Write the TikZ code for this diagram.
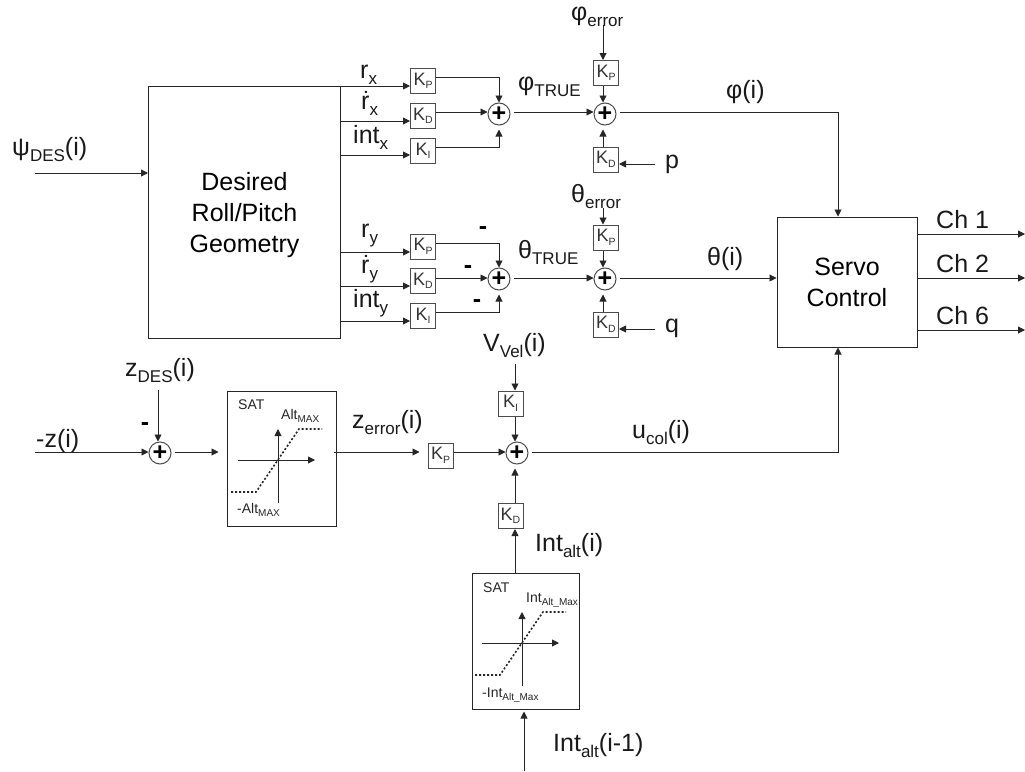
\documentclass[tikz,border=0pt]{standalone}
\usepackage{fontspec}
\setmainfont{Liberation Sans}
\usetikzlibrary{arrows.meta}
\newcommand{\bsub}[1]{\raisebox{-6pt}{\fontsize{17}{17}\selectfont #1}}
\newcommand{\ksub}[1]{K\raisebox{-3.5pt}{\fontsize{10.5}{10.5}\selectfont #1}}
\newcommand{\ssub}[1]{\raisebox{-3pt}{\fontsize{10}{10}\selectfont #1}}
\tikzset{
  >={Triangle[length=7pt,width=7pt]},
  sig/.style={draw=black!85, line width=.9pt, ->},
  block/.style={draw=black!85, line width=1pt, rectangle, inner sep=0pt, align=center,
    font=\fontsize{25}{31}\selectfont},
  gain/.style={draw=black!70, line width=1pt, rectangle, inner sep=0pt,
    minimum width=25pt, minimum height=25pt, text=black!80, font=\fontsize{18}{18}\selectfont},
  sumnode/.style={draw=black!70, line width=1pt, circle, inner sep=0pt,
    minimum size=22pt, font=\fontsize{25}{25}\bfseries\selectfont},
  lab/.style={anchor=base west, inner sep=0pt, text=black!90, font=\fontsize{25}{25}\selectfont},
  minus/.style={inner sep=0pt, font=\fontsize{25}{25}\bfseries\selectfont},
  satlab/.style={anchor=base west, inner sep=0pt, text=black!85, font=\fontsize{14}{14}\selectfont},
  pics/satcurve/.style={
    code={
      \draw[sig] (-40,0) -- (37,0);
      \draw[sig] (0,43) -- (0,-31);
      \draw[black!85, line width=1.6pt, dash pattern=on 2pt off 2pt] (-47,32) -- (-22,32) -- (21,-31) -- (44,-31);
    }
  }
}
\begin{document}
\begin{tikzpicture}[x=1pt,y=-1pt]
    \useasboundingbox (0,0) rectangle (1025,771);

    % blocks
    \node[block, minimum width=192pt, minimum height=252pt] (geom) at (244.5,212) {\rule{0pt}{24pt}Desired\\Roll/Pitch\\Geometry};
    \node[block, minimum width=140pt, minimum height=130pt] (servo) at (847,282) {Servo\\Control};
    \node[block, minimum width=109pt, minimum height=135pt] (satz) at (281.5,458.5) {};
    \node[block, minimum width=107pt, minimum height=136pt] (satint) at (525.5,641) {};
    \pic at (278,460) {satcurve};
    \pic at (522,643) {satcurve};

    % gains, roll
    \node[gain] (kpx) at (423,81) {\ksub{P}};
    \node[gain] (kdx) at (423,116) {\ksub{D}};
    \node[gain] (kix) at (423,151) {\ksub{I}};
    \node[gain] (kpphi) at (606,73) {\ksub{P}};
    \node[gain] (kdphi) at (606,159.5) {\ksub{D}};
    % gains, pitch
    \node[gain] (kpy) at (423,246.5) {\ksub{P}};
    \node[gain] (kdy) at (423,281) {\ksub{D}};
    \node[gain] (kiy) at (423,316) {\ksub{I}};
    \node[gain] (kpth) at (606,237.5) {\ksub{P}};
    \node[gain] (kdth) at (606,324.5) {\ksub{D}};
    % gains, altitude
    \node[gain] (kpz) at (440.5,455.5) {\ksub{P}};
    \node[gain] (kiz) at (510.5,403.5) {\ksub{I}};
    \node[gain] (kdz) at (510.5,516) {\ksub{D}};

    % sums
    \node[sumnode] (sumx) at (499,114) {+};
    \node[sumnode] (sumphi) at (605,114) {+};
    \node[sumnode] (sumy) at (499,279) {+};
    \node[sumnode] (sumth) at (605,279) {+};
    \node[sumnode] (sumz) at (160,453) {+};
    \node[sumnode] (sumu) at (517,453) {+};

    % free ends and levels
    \coordinate (psi) at (35,173);
    \coordinate (rx) at (341,86);
    \coordinate (drx) at (341,121);
    \coordinate (ix) at (341,155);
    \coordinate (ry) at (341,252);
    \coordinate (dry) at (341,286);
    \coordinate (iy) at (341,321);
    \coordinate (phi) at (605,112);
    \coordinate (theta) at (605,278);
    \coordinate (alt) at (515,452);
    \coordinate (err) at (603,25);
    \coordinate (therr) at (603,208);
    \coordinate (pin) at (655,164);
    \coordinate (qin) at (655,329);
    \coordinate (zin) at (35,452);
    \coordinate (zdes) at (158,390);
    \coordinate (vel) at (515,364);
    \coordinate (intin) at (524,771);
    \coordinate (ch1) at (1025,234);
    \coordinate (ch2) at (1025,278);
    \coordinate (ch6) at (1025,330);

    % roll and pitch channels
    \draw[sig] (psi) -- (geom.west |- psi);
    \draw[sig] (rx) -- (kpx.west |- rx);
    \draw[sig] (drx) -- (kdx.west |- drx);
    \draw[sig] (ix) -- (kix.west |- ix);
    \draw[sig] (ry) -- (kpy.west |- ry);
    \draw[sig] (dry) -- (kdy.west |- dry);
    \draw[sig] (iy) -- (kiy.west |- iy);
    \draw[sig] ([yshift=4pt]kpx.east) -| (sumx.north);
    \draw[sig] (kdx.east |- phi) -- (sumx.west |- phi);
    \draw[sig, shorten >=4pt] ([yshift=4pt]kix.east) -| (sumx.south);
    \draw[sig] ([yshift=3pt]kpy.east) -| (sumy.north);
    \draw[sig] (kdy.east |- theta) -- (sumy.west |- theta);
    \draw[sig, shorten >=4pt] ([yshift=4pt]kiy.east) -| (sumy.south);
    \draw[sig, shorten <=3pt] (sumx.east |- phi) -- (sumphi.west |- phi);
    \draw[sig, shorten <=3pt] (sumy.east |- theta) -- (sumth.west |- theta);
    \draw[sig] (err) -- (err |- kpphi.north);
    \draw[sig] (therr) -- (therr |- kpth.north);
    \draw[sig] (kpphi.south -| err) -- (sumphi.north -| err);
    \draw[sig] (kpth.south -| therr) -- (sumth.north -| therr);
    \draw[sig, shorten >=4pt] (kdphi.north -| err) -- (sumphi.south -| err);
    \draw[sig, shorten >=4pt] (kdth.north -| therr) -- (sumth.south -| therr);
    \draw[sig] (pin) -- (kdphi.east |- pin);
    \draw[sig] (qin) -- (kdth.east |- qin);
    \draw[sig, shorten <=3pt] (sumphi.east |- phi) -| (servo.north -| 838,0);
    \draw[sig, shorten <=3pt] (sumth.east |- theta) -- (servo.west |- theta);

    % altitude channel
    \draw[sig] (zin) -- (sumz.west |- zin);
    \draw[sig] (zdes) -- (sumz.north -| zdes);
    \draw[sig, shorten <=3pt, shorten >=8pt] (sumz.east |- zin) -- (satz.west |- zin);
    \draw[sig, shorten <=-3pt, shorten >=8pt] (satz.east |- alt) -- (kpz.west |- alt);
    \draw[sig] (kpz.east |- alt) -- (sumu.west |- alt);
    \draw[sig] (vel) -- (vel |- kiz.north);
    \draw[sig] (kiz.south -| vel) -- (sumu.north -| vel);
    \draw[sig, shorten >=4pt] (kdz.north -| vel) -- (sumu.south -| vel);
    \draw[sig] (satint.north -| vel) -- (kdz.south -| vel);
    \draw[sig, shorten >=2pt] (intin) -- (satint.south -| intin);
    \draw[sig, shorten <=3pt] (sumu.east |- alt) -| (servo.south -| 838,0);

    % servo outputs
    \draw[sig] (servo.east |- ch1) -- (ch1);
    \draw[sig] (servo.east |- ch2) -- (ch2);
    \draw[sig] (servo.east |- ch6) -- (ch6);

    % signal labels
    \node[lab] (lpsi) at (12,155) {ψ\bsub{DES}(i)};
    \node[lab] (lrx) at (360,78) {r\bsub{x}};
    \node[lab] (ldrx) at (361,109) {ṙ\bsub{x}};
    \node[lab] (lix) at (353,143) {int\bsub{x}};
    \node[lab] (lry) at (361,237) {r\bsub{y}};
    \node[lab] (ldry) at (361,273) {ṙ\bsub{y}};
    \node[lab] (liy) at (353,307) {int\bsub{y}};
    \node[lab] (lphit) at (518,90) {φ\bsub{TRUE}};
    \node[lab] (ltht) at (518,258) {θ\bsub{TRUE}};
    \node[lab] (lphie) at (571,20) {φ\bsub{error}};
    \node[lab] (lthe) at (571,202) {θ\bsub{error}};
    \node[lab] (lp) at (665,168) {p};
    \node[lab] (lq) at (665,332) {q};
    \node[lab] (lphii) at (726,98) {φ(i)};
    \node[lab] (lthi) at (707,265) {θ(i)};
    \node[lab] (lch1) at (936,228) {Ch 1};
    \node[lab] (lch2) at (936,272) {Ch 2};
    \node[lab] (lch6) at (936,324) {Ch 6};
    \node[lab] (lzdes) at (125,376) {z\bsub{DES}(i)};
    \node[lab] (lz) at (36,447) {-z(i)};
    \node[lab] (lzerr) at (352,428) {z\bsub{error}(i)};
    \node[lab] (lvel) at (483,351) {V\bsub{Vel}(i)};
    \node[lab] (lucol) at (632,438) {u\bsub{col}(i)};
    \node[lab] (linti) at (535,551) {Int\bsub{alt}(i)};
    \node[lab] (lintp) at (553,751) {Int\bsub{alt}(i-1)};

    % signs
    \node[minus] (m1) at (483,231) {-};
    \node[minus] (m2) at (468,270) {-};
    \node[minus] (m3) at (477,304) {-};
    \node[minus] (m4) at (145,427) {-};

    % saturation labels
    \node[satlab] (lsatz) at (238,409) {SAT};
    \node[satlab] (lamax) at (281,419) {Alt\ssub{MAX}};
    \node[satlab] (lamin) at (237,513) {-Alt\ssub{MAX}};
    \node[satlab] (lsati) at (483,592) {SAT};
    \node[satlab] (limax) at (526,602) {Int\ssub{Alt\_Max}};
    \node[satlab] (limin) at (482,697) {-Int\ssub{Alt\_Max}};
\end{tikzpicture}
\end{document}
